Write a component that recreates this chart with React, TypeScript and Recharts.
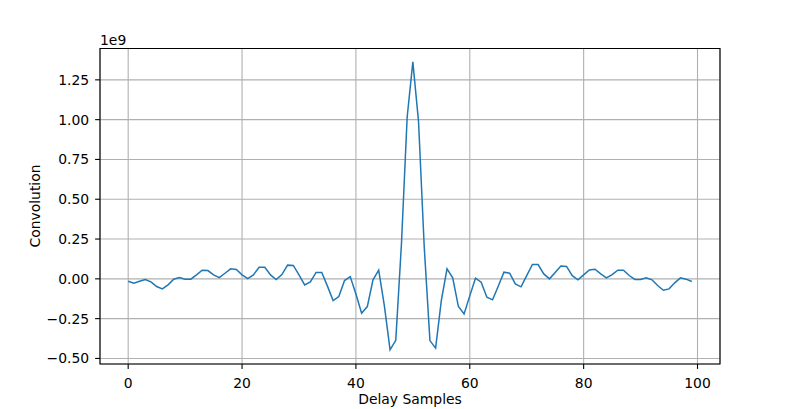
import React from 'react';
import {
  LineChart,
  Line,
  XAxis,
  YAxis,
  CartesianGrid,
  ReferenceArea,
} from 'recharts';

// convolution values, in units of 1e9, one per delay sample (0..99)
const convolution = [
  -0.015, -0.028, -0.015, -0.004, -0.019, -0.048, -0.063, -0.038, -0.002, 0.008,
  -0.002, -0.002, 0.025, 0.054, 0.052, 0.025, 0.008, 0.035, 0.063, 0.059,
  0.025, 0.001, 0.025, 0.073, 0.073, 0.025, -0.004, 0.027, 0.086, 0.084,
  0.025, -0.038, -0.019, 0.04, 0.04, -0.046, -0.137, -0.111, -0.011, 0.014,
  -0.095, -0.216, -0.174, -0.006, 0.055, -0.17, -0.446, -0.386, 0.22, 1.015,
  1.363, 0.988, 0.2, -0.388, -0.435, -0.137, 0.063, 0.006, -0.174, -0.22,
  -0.107, 0.004, -0.021, -0.115, -0.132, -0.047, 0.042, 0.035, -0.032, -0.05,
  0.02, 0.09, 0.09, 0.031, 0.0, 0.04, 0.08, 0.078, 0.02, -0.006,
  0.025, 0.056, 0.06, 0.031, 0.006, 0.027, 0.054, 0.054, 0.021, -0.004,
  -0.004, 0.006, -0.006, -0.042, -0.072, -0.063, -0.025, 0.006, -0.002, -0.017,
];

const xTicks = [0, 20, 40, 60, 80, 100];
const yTicks = [-0.5, -0.25, 0, 0.25, 0.5, 0.75, 1.0, 1.25];
const xDomain = [-4.95, 103.95];
const yDomain = [-0.535, 1.447];

const chartData = convolution.map((v, i) => ({ delay: i, value: v }));

const FONT = 'DejaVu Sans, sans-serif';
const FS = 13.9;

const fmtY = (v: number) => v.toFixed(2).replace('-', '\u2212');

const XLabel = () => (
  <text x={410} y={404} textAnchor="middle" fontFamily={FONT} fontSize={FS} fill="#000">
    Delay Samples
  </text>
);

const YLabel = () => (
  <g>
    <text
      x={35}
      y={206}
      transform="rotate(-90 35 206)"
      textAnchor="middle"
      dominantBaseline="central"
      fontFamily={FONT}
      fontSize={FS}
      fill="#000"
    >
      Convolution
    </text>
    <text x={100} y={45} fontFamily={FONT} fontSize={FS} fill="#000">
      1e9
    </text>
  </g>
);

export default function App() {
  return (
    <div style={{ position: 'absolute', left: 0, top: 0, width: 800, height: 409, background: '#fff' }}>
      <LineChart
        width={800}
        height={409}
        data={chartData}
        margin={{ top: 48.5, right: 80, bottom: 0, left: 0 }}
      >
        <CartesianGrid stroke="#b0b0b0" strokeWidth={1.1} />
        <XAxis
          dataKey="delay"
          type="number"
          domain={xDomain}
          ticks={xTicks}
          allowDataOverflow
          height={45}
          axisLine={false}
          tickSize={4.9}
          tickMargin={9}
          tickLine={{ stroke: '#000', strokeWidth: 1.1 }}
          tick={{ fill: '#000', fontFamily: FONT, fontSize: FS }}
          label={XLabel}
        />
        <YAxis
          type="number"
          domain={yDomain}
          ticks={yTicks}
          allowDataOverflow
          width={100}
          axisLine={false}
          tickSize={4.9}
          tickMargin={6}
          tickFormatter={fmtY}
          tickLine={{ stroke: '#000', strokeWidth: 1.1 }}
          tick={{ fill: '#000', fontFamily: FONT, fontSize: FS }}
          label={YLabel}
        />
        <Line
          type="linear"
          dataKey="value"
          stroke="#1f77b4"
          strokeWidth={1.5}
          dot={false}
          isAnimationActive={false}
        />
        <ReferenceArea
          x1={xDomain[0]}
          x2={xDomain[1]}
          y1={yDomain[0]}
          y2={yDomain[1]}
          fill="none"
          fillOpacity={0}
          stroke="#000"
          strokeWidth={1.1}
        />
      </LineChart>
    </div>
  );
}
